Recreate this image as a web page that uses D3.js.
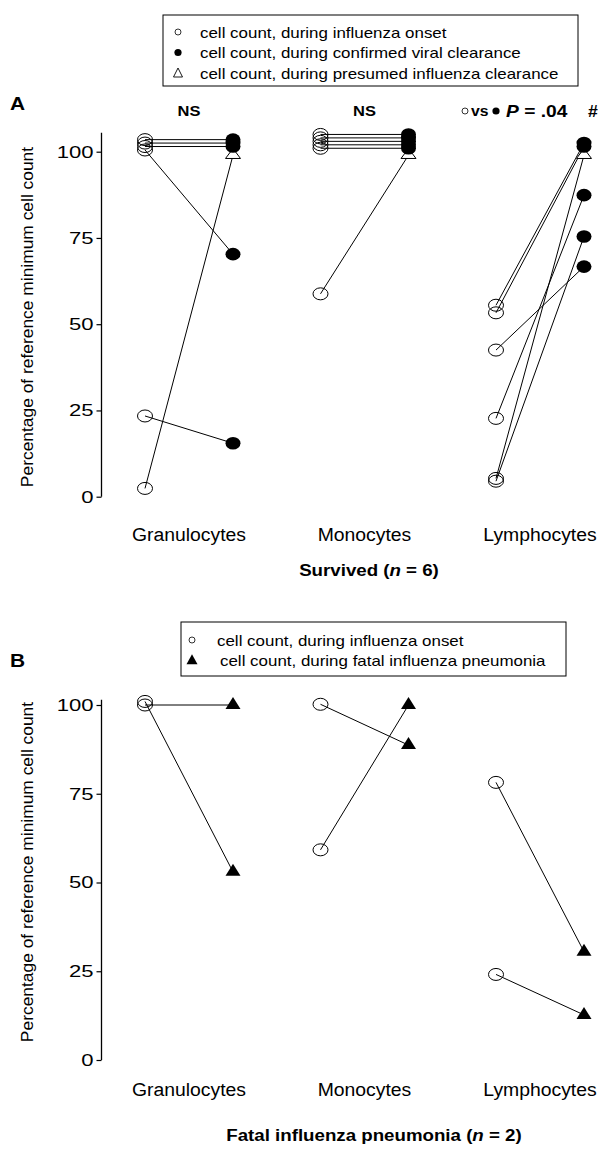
<!DOCTYPE html>
<html>
<head>
<meta charset="utf-8">
<script src="https://cdn.jsdelivr.net/npm/d3@7"></script>
<style>
  html, body { margin: 0; padding: 0; background: #fff; }
  svg { display: block; font-family: "Liberation Sans", Arial, sans-serif; }
</style>
</head>
<body>
<div id="chart"></div>
<script>
// categories + tick values
const categories = ["Granulocytes", "Monocytes", "Lymphocytes"];
const yTicks = [0, 25, 50, 75, 100];

// panel A: survived (n = 6), one value per patient, per category
const onsetA = [
  [103.5, 102.5, 101.5, 100.5, 23.4, 2.4],
  [105, 104, 103, 102, 101, 58.8],
  [55.5, 53.3, 42.5, 22.7, 5.3, 4.5]
];
const clearanceA = [
  [103.5, 102.5, 101.5, 70.3, 15.5, 99],
  [105, 104, 103, 102, 101, 99],
  [102.5, 101.5, 66.7, 87.4, 99, 75.4]
];
// which patient only had presumed clearance (triangle)
const presumedA = [5, 5, 4];

// panel B: fatal influenza pneumonia (n = 2)
const onsetB = [[100, 101], [100.2, 59.2], [78.2, 24.1]];
const fatalB = [[100, 53], [88.7, 100], [30.5, 12.7]];

const legendA = [
  "cell count, during influenza onset",
  "cell count, during confirmed viral clearance",
  "cell count, during presumed influenza clearance"
];
const legendB = [
  "cell count, during influenza onset",
  "cell count, during fatal influenza pneumonia"
];

const W = 602, H = 1149;
const SX = 1.1; // source figure is a bit stretched sideways

const svg = d3.select("#chart").append("svg")
  .attr("width", W).attr("height", H)
  .attr("viewBox", [0, 0, W, H]);

svg.append("rect").attr("width", W).attr("height", H).attr("fill", "#fff");

const x = d3.scalePoint().domain(categories).range([189, 540]);
const xt = d3.scalePoint().domain(["onset", "later"]).range([-44, 44]);

function txt(parent, px, py, size, anchor, weight, sx) {
  return parent.append("text")
    .attr("transform", `translate(${px},${py}) scale(${sx || SX},1)`)
    .attr("font-size", size)
    .attr("text-anchor", anchor || "start")
    .attr("font-weight", weight || "normal")
    .attr("fill", "#000");
}

function triPath(cx, cy, w, h) {
  return `M${cx},${cy - h * 2 / 3}L${cx + w / 2},${cy + h / 3}L${cx - w / 2},${cy + h / 3}Z`;
}

function yAxis(y, top, bottom, labelY) {
  const g = svg.append("g").attr("transform", "translate(101.5,0)");
  g.call(d3.axisLeft(y).tickValues(yTicks).tickSize(5).tickPadding(0))
    .call(s => s.select(".domain").remove())
    .call(s => s.selectAll(".tick line").attr("stroke", "#000").attr("stroke-width", 1.2))
    .call(s => s.selectAll(".tick text")
      .attr("font-size", 17).attr("font-family", null)
      .attr("fill", "#000")
      .attr("x", -8 / 1.3)
      .attr("transform", "scale(1.3,1)"));
  g.append("line")
    .attr("y1", y(bottom)).attr("y2", y(top))
    .attr("stroke", "#000").attr("stroke-width", 1.3);

  svg.append("text")
    .attr("transform", `translate(33,${labelY}) rotate(-90)`)
    .attr("text-anchor", "middle")
    .attr("font-size", 17.4)
    .text("Percentage of reference minimum cell count");
}

// ---------- panel A ----------
const yA = d3.scaleLinear().domain([0, 100]).range([496.7, 151.7]);
yAxis(yA, 105.5, 0, 317);

// legend A
svg.append("rect").attr("x", 163).attr("y", 15).attr("width", 415).attr("height", 71)
  .attr("fill", "none").attr("stroke", "#000").attr("stroke-width", 1);
legendA.forEach((t, i) => {
  const cy = 32 + i * 20.5;
  txt(svg, 200, cy + 5.5, 15.4).text(t);
  if (i === 0) svg.append("circle").attr("cx", 178).attr("cy", cy).attr("r", 3)
    .attr("fill", "none").attr("stroke", "#000").attr("stroke-width", 0.8);
  if (i === 1) svg.append("circle").attr("cx", 178).attr("cy", cy).attr("r", 3.6).attr("fill", "#000");
  if (i === 2) svg.append("path").attr("d", triPath(178, cy + 1, 9, 9))
    .attr("fill", "none").attr("stroke", "#000").attr("stroke-width", 0.9);
});

txt(svg, 10, 110, 19, "start", "bold").text("A");
txt(svg, x("Granulocytes"), 116, 15, "middle", "bold").text("NS");
txt(svg, x("Monocytes"), 116, 15, "middle", "bold").text("NS");

// "○ vs ● P = .04 #"
svg.append("circle").attr("cx", 465).attr("cy", 111).attr("r", 3)
  .attr("fill", "none").attr("stroke", "#000").attr("stroke-width", 0.8);
txt(svg, 471, 116, 15, "start", "bold", 1.05).text("vs");
svg.append("circle").attr("cx", 496).attr("cy", 111).attr("r", 3.6).attr("fill", "#000");
const pt = txt(svg, 506, 116.5, 16, "start", "bold", 1.2);
pt.append("tspan").attr("font-style", "italic").text("P");
pt.append("tspan").text(" = .04");
txt(svg, 588, 116.5, 16, "start", "bold", 1.1).text("#");

const gA = svg.append("g");
categories.forEach((c, ci) => {
  const x0 = x(c) + xt("onset"), x1 = x(c) + xt("later");
  const rows = onsetA[ci].map((v, i) => ({ a: v, b: clearanceA[ci][i], pres: i === presumedA[ci] }));

  gA.selectAll(null).data(rows).join("line")
    .attr("x1", x0).attr("y1", d => yA(d.a))
    .attr("x2", x1).attr("y2", d => yA(d.b))
    .attr("stroke", "#000").attr("stroke-width", 1);

  gA.selectAll(null).data(rows).join("ellipse")
    .attr("cx", x0).attr("cy", d => yA(d.a))
    .attr("rx", 7.5).attr("ry", 6)
    .attr("fill", "none").attr("stroke", "#000").attr("stroke-width", 1);

  gA.selectAll(null).data(rows.filter(d => d.pres)).join("path")
    .attr("d", d => triPath(x1, yA(d.b), 15, 10))
    .attr("fill", "#fff").attr("stroke", "#000").attr("stroke-width", 1);

  gA.selectAll(null).data(rows.filter(d => !d.pres)).join("ellipse")
    .attr("cx", x1).attr("cy", d => yA(d.b))
    .attr("rx", 7.5).attr("ry", 6.3)
    .attr("fill", "#000");

  txt(svg, x(c), 541, 17.6, "middle").text(c);
});

const tA = txt(svg, 369, 576, 17, "middle", "bold");
tA.append("tspan").text("Survived (");
tA.append("tspan").attr("font-style", "italic").text("n");
tA.append("tspan").text(" = 6)");

// ---------- panel B ----------
const yB = d3.scaleLinear().domain([0, 100]).range([1060, 705]);
yAxis(yB, 101.5, 0, 872);

svg.append("rect").attr("x", 181).attr("y", 622).attr("width", 385).attr("height", 54)
  .attr("fill", "none").attr("stroke", "#000").attr("stroke-width", 1);
legendB.forEach((t, i) => {
  const cy = 640 + i * 20;
  txt(svg, i === 0 ? 217 : 220, cy + 5.5, 15.4).text(t);
  if (i === 0) svg.append("circle").attr("cx", 192).attr("cy", cy).attr("r", 3)
    .attr("fill", "none").attr("stroke", "#000").attr("stroke-width", 0.8);
  else svg.append("path").attr("d", triPath(192, cy + 1, 11, 10)).attr("fill", "#000");
});

txt(svg, 10, 667, 19, "start", "bold").text("B");

const gB = svg.append("g");
categories.forEach((c, ci) => {
  const x0 = x(c) + xt("onset"), x1 = x(c) + xt("later");
  const rows = onsetB[ci].map((v, i) => ({ a: v, b: fatalB[ci][i] }));

  gB.selectAll(null).data(rows).join("line")
    .attr("x1", x0).attr("y1", d => yB(d.a))
    .attr("x2", x1).attr("y2", d => yB(d.b))
    .attr("stroke", "#000").attr("stroke-width", 1);

  gB.selectAll(null).data(rows).join("ellipse")
    .attr("cx", x0).attr("cy", d => yB(d.a))
    .attr("rx", 7.5).attr("ry", 6)
    .attr("fill", "none").attr("stroke", "#000").attr("stroke-width", 1);

  gB.selectAll(null).data(rows).join("path")
    .attr("d", d => triPath(x1, yB(d.b), 15, 12))
    .attr("fill", "#000");

  txt(svg, x(c), 1096, 17.6, "middle").text(c);
});

const tB = txt(svg, 374, 1141, 17, "middle", "bold");
tB.append("tspan").text("Fatal influenza pneumonia (");
tB.append("tspan").attr("font-style", "italic").text("n");
tB.append("tspan").text(" = 2)");
</script>
</body>
</html>
